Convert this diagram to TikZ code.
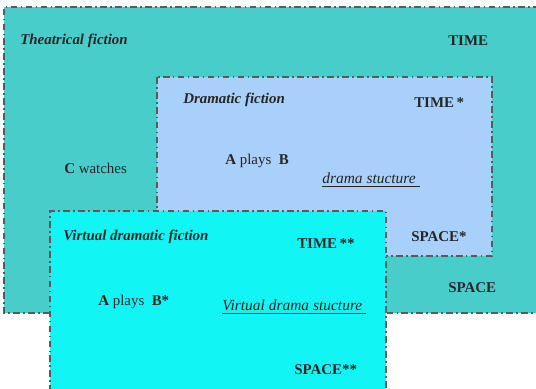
\documentclass[tikz,border=0pt]{standalone}
\usepackage{fontspec}
\setmainfont{Liberation Serif}
\definecolor{theatre}{HTML}{48CDCA}
\definecolor{drama}{HTML}{A8D0FA}
\definecolor{virt}{HTML}{12F5F5}
\definecolor{edge}{HTML}{5A5A5A}
\tikzset{
  framebox/.style={draw=edge, line width=1.3pt, dash pattern=on 5pt off 2.5pt on 1.2pt off 2.5pt},
  lbl/.style={anchor=west, inner sep=0pt, font=\fontsize{11.2}{13}\selectfont, text=black!85},
  ttl/.style={lbl, font=\fontsize{11.2}{13}\selectfont\bfseries\itshape},
  capslbl/.style={lbl, font=\fontsize{11.2}{13}\selectfont\bfseries},
  ul/.style={lbl, font=\fontsize{11.6}{13}\selectfont\itshape}
}
\begin{document}
\begin{tikzpicture}[x=0.75pt,y=-0.75pt]
\useasboundingbox (0,0) rectangle (536,389);
\clip (0,0) rectangle (536,389);
% boxes
\fill[white] (0,0) rectangle (536,389);
\fill[theatre] (4,7) rectangle (540,313);
\draw[framebox] (540,7) -- (4,7) -- (4,313) -- (540,313);
\path[framebox, fill=drama] (157,77) rectangle (492,256);
\fill[virt] (50,211) rectangle (386,392);
\draw[framebox] (50,392) -- (50,211) -- (386,211) -- (386,392);
% theatrical
\node[ttl] (tf) at (20,41) {Theatrical fiction};
\node[capslbl] (time) at (448,41) {TIME};
\node[lbl] (cw) at (64,168) {\textbf{C} watches};
\node[capslbl] (space) at (448,288) {SPACE};
% dramatic
\node[ttl] (df) at (183,100) {Dramatic fiction};
\node[capslbl] (time1) at (414,103) {TIME\,*};
\node[lbl] (apb) at (225,161) {\textbf{A} plays\enspace\textbf{B}};
\node[ul] (ds) at (322,180) {\underline{drama stucture\ }};
\node[capslbl] (space1) at (411,237) {SPACE*};
% virtual
\node[ttl] (vf) at (63,237) {Virtual dramatic fiction};
\node[capslbl] (time2) at (297,244) {TIME\,**};
\node[lbl] (apb2) at (98,302) {\textbf{A} plays\enspace\textbf{B*}};
\node[ul] (vds) at (222,307) {\underline{Virtual drama stucture\ }};
\node[capslbl] (space2) at (294,370) {SPACE**};
\end{tikzpicture}
\end{document}
